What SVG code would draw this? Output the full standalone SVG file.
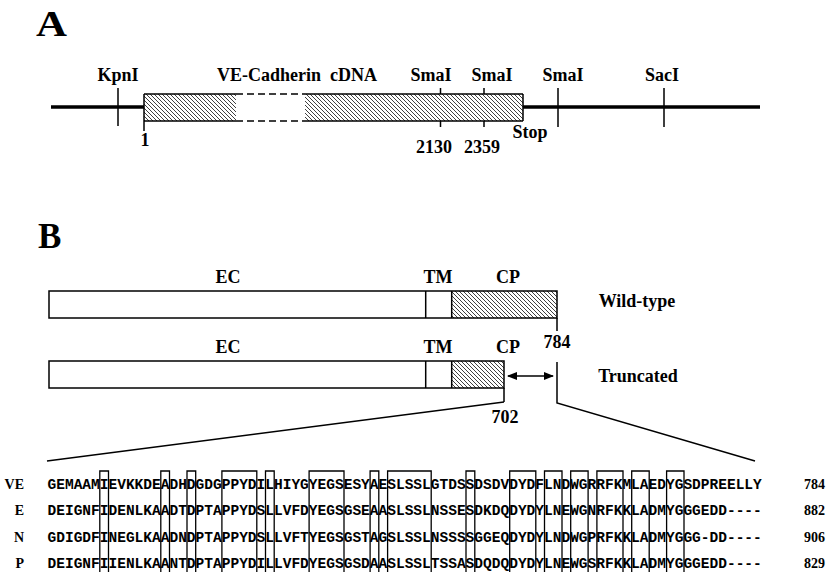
<svg xmlns="http://www.w3.org/2000/svg" width="835" height="572" viewBox="0 0 835 572">
<defs>
<pattern id="hatch" patternUnits="userSpaceOnUse" width="4" height="4">
<path d="M0,0 L4,4 M-1,3 L1,5 M3,-1 L5,1" stroke="#000" stroke-width="0.75"/>
</pattern>
<marker id="ah" markerWidth="10" markerHeight="8" refX="9" refY="4" orient="auto-start-reverse" markerUnits="userSpaceOnUse">
<path d="M0,0 L10,4 L0,8 Z" fill="#000"/>
</marker>
<style>
.lbl{font-family:"Liberation Serif","Times New Roman",serif;font-weight:bold;font-size:18px;fill:#000}
.big{font-family:"Liberation Serif","Times New Roman",serif;font-weight:bold;font-size:35px;fill:#000}
.sl{font-family:"Liberation Serif","Times New Roman",serif;font-weight:bold;font-size:14px;fill:#000}
.seq{font-family:"Liberation Mono","Courier New",monospace;font-weight:bold;font-size:14.53px;fill:#000}
.ln{stroke:#000;stroke-width:1.5;fill:none}
.thick{stroke:#000;stroke-width:3.5;fill:none}
.bx{stroke:#000;stroke-width:1.3;fill:none}
</style>
</defs>

<!-- Panel A -->
<text class="big" x="36" y="36" textLength="31" lengthAdjust="spacingAndGlyphs">A</text>
<g id="mapA">
<line class="thick" x1="51" y1="107" x2="144" y2="107"/>
<line class="thick" x1="523" y1="107" x2="760" y2="107"/>
<rect x="144" y="94" width="92" height="27" fill="url(#hatch)"/>
<rect x="305" y="94" width="218" height="27" fill="url(#hatch)"/>
<path class="ln" d="M144,94 H236 M305,94 H523 M144,121 H236 M305,121 H523 M144,94 V131 M523,94 V121"/>
<path class="ln" d="M236,94 H305 M236,121 H305" stroke-dasharray="7,4"/>
<path class="ln" d="M118,88 V126 M558,88 V127 M664,88 V127 M440.5,88 V94 M440.5,121 V127 M484,88 V94 M484,121 V127"/>
</g>
<g id="labelsA">
<text class="lbl" x="118" y="81" text-anchor="middle">KpnI</text>
<text class="lbl" y="81"><tspan x="217">VE-Cadherin</tspan><tspan x="330">cDNA</tspan></text>
<text class="lbl" x="431" y="81" text-anchor="middle">SmaI</text>
<text class="lbl" x="492" y="81" text-anchor="middle">SmaI</text>
<text class="lbl" x="563" y="81" text-anchor="middle">SmaI</text>
<text class="lbl" x="662" y="81" text-anchor="middle">SacI</text>
<text class="lbl" x="145" y="146" text-anchor="middle">1</text>
<text class="lbl" x="434" y="153" text-anchor="middle">2130</text>
<text class="lbl" x="482" y="153" text-anchor="middle">2359</text>
<text class="lbl" x="530" y="138" text-anchor="middle">Stop</text>
</g>

<!-- Panel B -->
<text class="big" x="38" y="248">B</text>
<g id="wildtype">
<rect x="451.7" y="291" width="105.3" height="27" fill="url(#hatch)"/>
<rect class="ln" x="49" y="291" width="508" height="27"/>
<path class="ln" d="M425.7,291 V318 M451.7,291 V318 M557,318 V331"/>
<text class="lbl" x="228" y="283" text-anchor="middle">EC</text>
<text class="lbl" x="438" y="283" text-anchor="middle">TM</text>
<text class="lbl" x="508" y="283" text-anchor="middle">CP</text>
<text class="lbl" x="637" y="307" text-anchor="middle">Wild-type</text>
<text class="lbl" x="557" y="348" text-anchor="middle">784</text>
</g>
<g id="truncated">
<rect x="451.7" y="361" width="52.3" height="27" fill="url(#hatch)"/>
<rect class="ln" x="49" y="361" width="455" height="27"/>
<path class="ln" d="M425.7,361 V388 M451.7,361 V388 M504,388 V402"/>
<text class="lbl" x="228" y="353" text-anchor="middle">EC</text>
<text class="lbl" x="438" y="353" text-anchor="middle">TM</text>
<text class="lbl" x="508" y="353" text-anchor="middle">CP</text>
<text class="lbl" x="638" y="382" text-anchor="middle">Truncated</text>
<text class="lbl" x="505" y="423" text-anchor="middle">702</text>
</g>
<g id="connectors">
<path class="ln" d="M557,362 V403 L755,461"/>
<path class="ln" d="M504,402 L47,461"/>
<line class="ln" x1="508" y1="376" x2="553" y2="376" marker-start="url(#ah)" marker-end="url(#ah)"/>
</g>

<!-- Alignment -->
<g id="alignment">
<g id="seqlabels">
<text class="sl" x="24" y="488.5" text-anchor="end">VE</text>
<text class="sl" x="24" y="515" text-anchor="end">E</text>
<text class="sl" x="24" y="541.5" text-anchor="end">N</text>
<text class="sl" x="24" y="568" text-anchor="end">P</text>
</g>
<g id="sequences">
<text class="seq" x="47.5" y="488.5">GEMAAMIEVKKDEADHDGDGPPYDILHIYGYEGSESYAESLSSLGTDSSDSDVDYDFLNDWGRRFKMLAEDYGSDPREELLY</text>
<text class="seq" x="47.5" y="515">DEIGNFIDENLKAADTDPTAPPYDSLLVFDYEGSGSEAASLSSLNSSESDKDQDYDYLNEWGNRFKKLADMYGGGEDD----</text>
<text class="seq" x="47.5" y="541.5">GDIGDFINEGLKAADNDPTAPPYDSLLVFTYEGSGSTAGSLSSLNSSSSGGEQDYDYLNDWGPRFKKLADMYGGG-DD----</text>
<text class="seq" x="47.5" y="568">DEIGNFIIENLKAANTDPTAPPYDILLVFDYEGSGSDAASLSSLTSSASDQDQDYDYLNEWGSRFKKLADMYGGGEDD----</text>
</g>
<g id="numbers">
<text class="sl" x="825" y="488.5" text-anchor="end">784</text>
<text class="sl" x="825" y="515" text-anchor="end">882</text>
<text class="sl" x="825" y="541.5" text-anchor="end">906</text>
<text class="sl" x="825" y="568" text-anchor="end">829</text>
</g>
<g id="conserved">
<path class="bx" d="M99.8,572 V471 H108.5 V572 M160.8,572 V471 H169.5 V572 M187,572 V471 H195.7 V572 M221.9,572 V471 H256.8 V572 M265.5,572 V471 H274.2 V572 M309.1,572 V471 H344 V572 M370.1,572 V471 H378.8 V572 M387.6,572 V471 H431.2 V572 M466,572 V471 H474.8 V572 M509.7,572 V471 H535.8 V572 M544.5,572 V471 H562 V572 M570.7,572 V471 H588.1 V572 M596.9,572 V471 H623 V572 M631.7,572 V471 H649.2 V572 M666.6,572 V471 H684 V572"/>
</g>
</g>
</svg>
